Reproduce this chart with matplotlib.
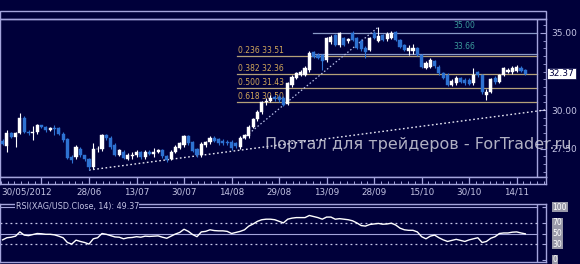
import matplotlib
matplotlib.use("Agg")
import matplotlib.pyplot as plt
from matplotlib.patches import Rectangle

# ---------------- data ----------------
opens = [27.98, 27.65, 28.50, 28.25, 28.50, 29.45, 28.60, 28.50, 28.55, 29.00,
         28.90, 28.72, 28.80, 28.80, 28.45, 28.10, 26.95, 26.95, 27.50, 27.05,
         26.85, 26.30, 27.45, 27.45, 28.35, 28.20, 27.75, 27.10, 27.30, 26.85,
         27.00, 27.05, 27.25, 26.95, 27.30, 27.15, 27.30, 27.40, 27.00, 26.85,
         27.30, 27.55, 27.70, 28.30, 27.95, 27.45, 27.05, 27.70, 27.90, 28.20,
         28.10, 28.00, 27.95, 27.95, 27.85, 27.60, 28.20, 28.30, 28.90, 29.40,
         29.85, 30.50, 30.60, 30.85, 30.85, 30.80, 30.40, 31.60, 32.10, 32.30,
         32.30, 32.60, 33.75, 33.60, 33.55, 33.25, 34.40, 34.85, 34.20, 34.65,
         34.45, 35.00, 34.65, 34.50, 34.05, 33.90, 35.00, 34.50, 34.85, 34.60,
         34.70, 35.05, 34.55, 34.20, 33.80, 33.80, 34.00, 33.60, 32.75, 32.80,
         33.15, 32.80, 32.40, 32.30, 31.65, 31.75, 32.05, 31.95, 31.95, 31.75,
         32.45, 32.25, 30.95, 31.20, 32.10, 31.85, 32.30, 32.50, 32.45, 32.55,
         32.75, 32.60]
closes = [27.80, 28.50, 28.25, 28.50, 29.48, 28.55, 28.50, 28.60, 29.00, 28.90,
          28.70, 28.80, 28.75, 28.45, 28.05, 26.90, 26.75, 27.60, 27.05, 26.80,
          26.30, 27.50, 27.50, 28.35, 28.20, 27.60, 27.10, 27.40, 26.90, 27.10,
          27.05, 27.30, 26.95, 27.30, 27.15, 27.30, 27.40, 27.00, 26.75, 27.30,
          27.60, 27.85, 28.30, 27.85, 27.35, 27.05, 27.80, 27.90, 28.20, 28.00,
          27.85, 27.85, 27.85, 27.55, 27.65, 28.20, 28.35, 28.90, 29.40, 29.90,
          30.50, 30.60, 30.80, 30.70, 30.65, 30.35, 31.75, 32.15, 32.40, 32.45,
          32.75, 33.70, 33.45, 33.40, 33.20, 34.65, 34.75, 34.25, 35.00, 34.25,
          34.60, 34.55, 34.05, 33.95, 33.75, 34.65, 34.70, 34.80, 34.55, 34.95,
          35.00, 34.55, 34.10, 33.90, 34.00, 34.05, 33.60, 32.80, 33.05, 33.25,
          32.85, 32.40, 32.10, 31.65, 31.90, 32.10, 31.85, 31.75, 31.70, 32.25,
          32.25, 31.15, 31.20, 32.00, 31.80, 32.25, 32.70, 32.60, 32.75, 32.80,
          32.55, 32.37]
highs = [28.10, 28.70, 28.60, 28.60, 29.80, 29.60, 28.70, 28.95, 29.10, 29.05,
         28.98, 28.90, 29.00, 28.90, 28.55, 28.15, 27.05, 27.70, 27.60, 27.10,
         26.90, 27.85, 27.65, 28.45, 28.45, 28.30, 27.85, 27.50, 27.40, 27.20,
         27.25, 27.40, 27.35, 27.40, 27.40, 27.55, 27.50, 27.50, 27.10, 27.40,
         27.70, 27.95, 28.40, 28.40, 28.00, 27.55, 27.90, 28.00, 28.30, 28.30,
         28.20, 28.10, 28.05, 28.05, 27.95, 28.30, 28.45, 29.00, 29.50, 30.00,
         30.60, 30.75, 30.95, 30.95, 30.95, 30.90, 31.85, 32.25, 32.50, 32.60,
         32.85, 33.80, 33.85, 33.70, 33.65, 34.75, 34.85, 34.95, 35.05, 34.75,
         34.70, 35.10, 34.75, 34.60, 34.15, 34.75, 35.10, 35.40, 34.95, 35.05,
         35.10, 35.15, 34.60, 34.30, 34.20, 34.30, 34.10, 33.65, 33.15, 33.35,
         33.25, 32.90, 32.50, 32.40, 32.00, 32.20, 32.15, 32.05, 32.05, 32.70,
         32.55, 32.35, 31.35, 32.10, 32.20, 32.35, 32.80, 32.75, 32.85, 32.95,
         32.85, 32.65]
lows = [27.70, 27.30, 28.15, 27.60, 28.45, 28.50, 28.40, 28.05, 28.45, 28.80,
        28.60, 28.65, 28.40, 28.35, 27.95, 26.85, 26.55, 26.85, 26.95, 26.70,
        26.10, 26.20, 27.30, 27.35, 28.05, 27.50, 27.00, 27.00, 26.80, 26.75,
        26.80, 26.95, 26.85, 26.85, 27.05, 26.95, 27.20, 26.90, 26.65, 26.75,
        27.20, 27.45, 27.60, 27.75, 27.25, 26.95, 26.95, 27.60, 27.80, 27.90,
        27.75, 27.75, 27.75, 27.40, 27.55, 27.50, 28.10, 28.20, 28.80, 29.30,
        29.75, 30.35, 30.50, 30.60, 30.55, 30.25, 30.30, 31.50, 32.00, 32.20,
        32.20, 32.50, 33.35, 33.30, 32.60, 33.10, 34.30, 34.15, 34.10, 34.15,
        34.35, 34.45, 33.95, 33.85, 33.35, 33.80, 34.60, 34.40, 34.45, 34.50,
        34.60, 34.45, 34.00, 33.80, 33.60, 33.65, 33.50, 32.70, 32.65, 32.70,
        32.75, 32.30, 32.00, 31.55, 31.55, 31.65, 31.75, 31.65, 31.60, 31.65,
        32.15, 31.05, 30.65, 31.10, 31.70, 31.75, 32.20, 32.40, 32.35, 32.45,
        32.45, 32.30]
rsi = [38, 42, 43, 45, 53, 47, 46, 48, 50, 49.5,
       48.5, 48.5, 47.5, 45, 42, 33, 30, 37.5, 35, 33,
       30, 40, 42, 50, 48.5, 46, 43.5, 43, 40, 42,
       42.5, 44, 43, 45, 44.5, 45, 45.5, 43, 41, 45,
       49, 52, 58, 54, 48, 44, 53, 54, 57, 55.5,
       55, 55, 54, 50, 52, 54, 57, 64, 68, 73,
       76, 77, 77, 76, 73, 70, 77, 79, 80, 80,
       80, 84, 82, 80, 77, 81, 81, 77, 78, 77,
       76, 74, 70, 65, 64, 67, 68, 69, 67.5, 68,
       69.5, 66, 60, 57, 56, 56, 53, 44, 40, 45,
       47, 42, 38, 35, 37, 39, 37, 35, 38, 40,
       42, 33, 35, 41, 44, 50, 51, 51, 52.5, 53,
       51, 49.37]

date_labels = ["28/06", "13/07", "30/07", "14/08", "29/08", "13/09",
               "28/09", "15/10", "30/10", "14/11"]
date_idx = [20, 31, 42, 53, 64, 75, 86, 97, 108, 119]
first_label = "30/05/2012"
major_idx = [9, 20, 31, 42, 53, 64, 75, 86, 97, 108, 119]

fib_ratios = ["0.236", "0.382", "0.500", "0.618"]
fib_levels = [33.51, 32.36, 31.43, 30.50]
fib_start = 54.3
target_levels = [35.00, 33.66]
target_start = 71.9
trend1_idx = [20, 125.6]
trend1_val = [26.10, 30.00]
trend2_idx = [55, 87]
trend2_val = [28.00, 35.39]
last_price = 32.37
price_ticks = [35.00, 30.00, 27.50]
rsi_ticks = [100, 70, 50, 30, 0]
rsi_title = "RSI(XAG/USD.Close, 14): 49.37"
watermark = "Портал для трейдеров - ForTrader.ru"

# ---------------- style ----------------
BG = "#00003a"
FRAME = "#a4a4dc"
UP = "#ffffff"
DOWN = "#2e72d2"
FIB = "#b4a078"
FIBTXT = "#d2a85a"
TGT = "#8a9ac8"
TGTTXT = "#3c9c9c"
TXT = "#c4c4e4"

W, H = 580, 264
fig = plt.figure(figsize=(W / 100, H / 100), dpi=100, facecolor=BG)


def fx(px):
    return px / W


def fy(py):
    return 1 - py / H


x0, dx = 2.6, 4.32
xl = (0 - x0) / dx
xr = (546 - x0) / dx
frame_k = (537 - x0) / dx

# main axes
ax = fig.add_axes([0, fy(177), fx(546), fy(19) - fy(177)], facecolor=BG)
ax.set_xlim(xl, xr)
p_top = 35 + (33 - 19) / 15.4
p_bot = 35 - (177 - 33) / 15.4
ax.set_ylim(p_bot, p_top)
for s in ax.spines.values():
    s.set_color(FRAME)
    s.set_linewidth(1.0)
ax.set_xticks([])
ax.yaxis.tick_right()
ax.set_yticks(price_ticks)
ax.set_yticklabels([f"{v:.2f}" for v in price_ticks])
ax.tick_params(axis="y", direction="in", length=4, color=FRAME, labelcolor=TXT,
               labelsize=6.5, pad=4)
ax.set_yticks([26 + 0.5 * i for i in range(20)], minor=True)
ax.tick_params(axis="y", which="minor", direction="in", length=2, color=FRAME)
ax.axvline(frame_k, color=FRAME, lw=1.0)

# fib lines
for r, lv in zip(fib_ratios, fib_levels):
    ax.plot([fib_start, frame_k], [lv, lv], color=FIB, lw=0.9, zorder=1)
    ax.text(fib_start + 0.3, lv + 0.07, f"{r} {lv:.2f}", color=FIBTXT, fontsize=5.5,
            va="bottom", ha="left", zorder=1)
for lv in target_levels:
    ax.plot([target_start, frame_k], [lv, lv], color=TGT, lw=0.9, zorder=1)
    ax.text(107.0, lv + 0.2, f"{lv:.2f}", color=TGTTXT, fontsize=5.5,
            va="bottom", ha="center", zorder=1)

# trend lines
ax.plot(trend1_idx, trend1_val, color="#e8e8f4", lw=1.0, ls=(0, (1.2, 1.8)), zorder=2)
ax.plot(trend2_idx, trend2_val, color="#b8c0e8", lw=0.9, ls=(0, (1.2, 1.8)), zorder=2)

# candles
ks = list(range(len(opens)))
cols = [UP if c >= o else DOWN for o, c in zip(opens, closes)]
ax.vlines(ks, lows, highs, colors=cols, lw=0.8, zorder=3)
bottoms = [min(o, c) for o, c in zip(opens, closes)]
heights = [max(abs(c - o), 0.05) for o, c in zip(opens, closes)]
ax.bar(ks, heights, bottom=bottoms, width=0.72, color=cols, edgecolor=cols,
       linewidth=0.3, zorder=4)

# last price box
ax.text(1.005, (last_price - p_bot) / (p_top - p_bot), f"{last_price:.2f}",
        transform=ax.transAxes, fontsize=6.5, color="#000040", va="center", ha="left",
        bbox=dict(boxstyle="square,pad=0.15", fc="white", ec="#000040", lw=0.5))

# top band
fig.add_artist(Rectangle((0, fy(19)), fx(546), fy(11) - fy(19), transform=fig.transFigure,
                         fill=False, ec=FRAME, lw=1.0))

# x tick strip
axs = fig.add_axes([0, fy(184), fx(546), fy(177) - fy(184)], facecolor=BG)
axs.set_xlim(xl, xr)
axs.set_ylim(0, 1)
axs.set_xticks([])
axs.set_yticks([])
for s in axs.spines.values():
    s.set_color(FRAME)
    s.set_linewidth(1.0)
axs.vlines(major_idx, 0, 1, colors=FRAME, lw=0.9)
minor = [m + j * 11 / 7 for m in [-2] + major_idx for j in range(1, 7)]
minor = [m for m in minor if xl < m < xr]
axs.vlines(minor, 0, 0.45, colors=FRAME, lw=0.7)
for lab, k in zip(date_labels, date_idx):
    fig.text(fx(x0 + dx * k), fy(192), lab, color=TXT, fontsize=6.3,
             ha="center", va="center")
fig.text(fx(1), fy(192), first_label, color=TXT, fontsize=6.3, ha="left", va="center")

# RSI axes
ar = fig.add_axes([0, fy(262), fx(546), fy(204) - fy(262)], facecolor=BG)
r_top = (260 - 204) / 0.53
r_bot = (260 - 262) / 0.53
ar.set_xlim(xl, xr)
ar.set_ylim(r_bot, r_top)
for s in ar.spines.values():
    s.set_color(FRAME)
    s.set_linewidth(1.0)
ar.set_xticks([])
ar.yaxis.tick_right()
ar.set_yticks(rsi_ticks)
ar.set_yticklabels([])
ar.tick_params(axis="y", direction="in", length=3, color=FRAME)
ar.axvline(frame_k, color=FRAME, lw=1.0)
ar.plot([xl, frame_k], [100, 100], color=FRAME, lw=0.8)
ar.plot([xl, frame_k], [50, 50], color=FRAME, lw=0.8)
for lv in (70, 30):
    ar.plot([xl, frame_k], [lv, lv], color="#c8c8ec", lw=0.9, ls=(0, (1.5, 2.5)))
ar.plot(ks, rsi, color="white", lw=1.0, zorder=3)
ar.text(3.0, 101, rsi_title, color=TXT, fontsize=5.8, ha="left", va="center",
        bbox=dict(boxstyle="square,pad=0.05", fc=BG, ec="none"))
for v in rsi_ticks:
    ar.text(1.012, (v - r_bot) / (r_top - r_bot), f"{v}", transform=ar.transAxes,
            fontsize=5.5, color="white", va="center", ha="left",
            bbox=dict(boxstyle="square,pad=0.1", fc="#9898a8", ec="none"))

# watermark
fig.text(fx(265), fy(144), watermark, color="#d0d0dc", alpha=0.85, fontsize=11.5,
         ha="left", va="center")

fig.savefig("out.png", dpi=100, facecolor=BG)
